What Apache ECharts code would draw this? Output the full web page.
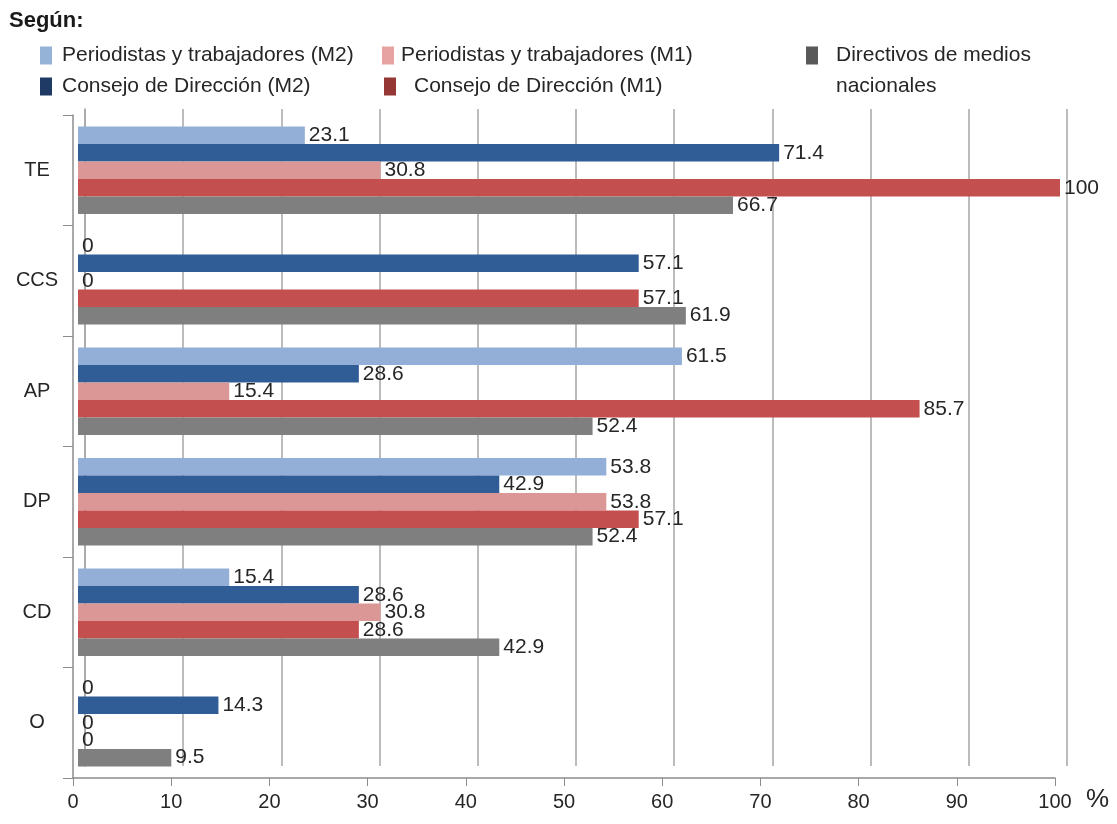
<!DOCTYPE html>
<html>
<head>
<meta charset="utf-8">
<script src="https://cdn.jsdelivr.net/npm/echarts@6/dist/echarts.min.js"></script>
<style>html,body{margin:0;padding:0;background:#fff}#c{width:1117px;height:824px}</style>
</head>
<body>
<div id="c"></div>
<script>
const categories = ['TE', 'CCS', 'AP', 'DP', 'CD', 'O'];
const xTicks = [0, 10, 20, 30, 40, 50, 60, 70, 80, 90, 100];
const seriesNames = [
  'Periodistas y trabajadores (M2)',
  'Consejo de Dirección (M2)',
  'Periodistas y trabajadores (M1)',
  'Consejo de Dirección (M1)',
  'Directivos de medios nacionales'
];
const periodistasM2 = [23.1, 0, 61.5, 53.8, 15.4, 0];
const consejoM2     = [71.4, 57.1, 28.6, 42.9, 28.6, 14.3];
const periodistasM1 = [30.8, 0, 15.4, 53.8, 30.8, 0];
const consejoM1     = [100, 57.1, 85.7, 57.1, 28.6, 0];
const directivos    = [66.7, 61.9, 52.4, 52.4, 42.9, 9.5];

const seriesValues = [periodistasM2, consejoM2, periodistasM1, consejoM1, directivos];
const barColors = ['#93AFD8', '#315D97', '#DB9795', '#C3504E', '#7F7F7F'];
const legendColors = ['#95B3D7', '#1F3A64', '#E6A3A1', '#953735', '#595959'];

const FONT = '"Liberation Sans", Arial, sans-serif';
const TXT = '#262626';

const chart = echarts.init(document.getElementById('c'), null, {renderer: 'canvas'});

function legend(i, left, top, gap, fmt) {
  return {
    show: true, left: left, top: top, padding: 0, icon: 'rect',
    itemWidth: 12, itemHeight: 18, selectedMode: false,
    data: [{name: seriesNames[i], itemStyle: {color: legendColors[i]}}],
    formatter: fmt || '{name}',
    textStyle: {fontSize: 21, fontFamily: FONT, color: TXT, padding: [0, 0, 0, gap]}
  };
}

const series = seriesValues.map((vals, i) => ({
  name: seriesNames[i],
  type: 'bar',
  xAxisIndex: 1, yAxisIndex: 1,
  data: vals,
  barGap: '0%',
  barCategoryGap: '21%',
  itemStyle: {color: barColors[i]},
  label: {
    show: true, position: 'right', distance: 4,
    fontSize: 21, fontFamily: FONT, color: TXT,
    formatter: p => String(p.value)
  }
}));

chart.setOption({
  animation: false,
  backgroundColor: '#fff',
  title: [
    {text: 'Según:', left: 9, top: 10, padding: 0,
     textStyle: {fontSize: 22, fontWeight: 'bold', fontFamily: FONT, color: '#1a1a1a'}},
    {text: 'nacionales', left: 836, top: 76, padding: 0,
     textStyle: {fontSize: 21, fontWeight: 'normal', fontFamily: FONT, color: TXT}},
    {text: '%', left: 1086, top: 787, padding: 0,
     textStyle: {fontSize: 26, fontWeight: 'normal', fontFamily: FONT, color: TXT}}
  ],
  legend: [
    legend(0, 40, 45, 5),
    legend(2, 382, 45, 2),
    legend(4, 806, 45, 13, 'Directivos de medios'),
    legend(1, 40, 76, 5),
    legend(3, 384, 76, 13)
  ],
  grid: [
    {left: 85, right: 50, top: 109, bottom: 58},
    {left: 78, right: 57, top: 115, bottom: 46},
    {left: 73, right: 62, top: 115, bottom: 46}
  ],
  xAxis: [
    {gridIndex: 0, type: 'value', min: 0, max: 100, interval: 10,
     axisLine: {show: false}, axisTick: {show: false}, axisLabel: {show: false},
     splitLine: {show: true, lineStyle: {color: '#A6A6A6', width: 1.5}}},
    {gridIndex: 1, type: 'value', min: 0, max: 100, interval: 10,
     axisLine: {show: false}, axisTick: {show: false}, axisLabel: {show: false},
     splitLine: {show: false}},
    {gridIndex: 2, type: 'value', min: 0, max: 100, interval: 10,
     axisLine: {show: true, lineStyle: {color: '#8C8C8C', width: 1.5}},
     axisTick: {show: true, length: 8, inside: false, lineStyle: {color: '#8C8C8C'}},
     axisLabel: {show: true, margin: 14, fontSize: 20, fontFamily: FONT, color: TXT,
                 formatter: v => xTicks.includes(v) ? String(v) : ''},
     splitLine: {show: false}}
  ],
  yAxis: [
    {gridIndex: 0, type: 'category', data: categories, inverse: true,
     axisLine: {show: true, lineStyle: {color: '#A6A6A6', width: 1.5}},
     axisTick: {show: false}, axisLabel: {show: false}, splitLine: {show: false}},
    {gridIndex: 1, type: 'category', data: categories, inverse: true,
     axisLine: {show: false}, axisTick: {show: false}, axisLabel: {show: false}},
    {gridIndex: 2, type: 'category', data: categories, inverse: true,
     axisLine: {show: true, lineStyle: {color: '#8C8C8C', width: 1.5}},
     axisTick: {show: true, length: 10, lineStyle: {color: '#8C8C8C'}},
     axisLabel: {show: true, align: 'center', margin: 36, fontSize: 20, fontFamily: FONT, color: TXT}}
  ],
  series: series
});
</script>
</body>
</html>
